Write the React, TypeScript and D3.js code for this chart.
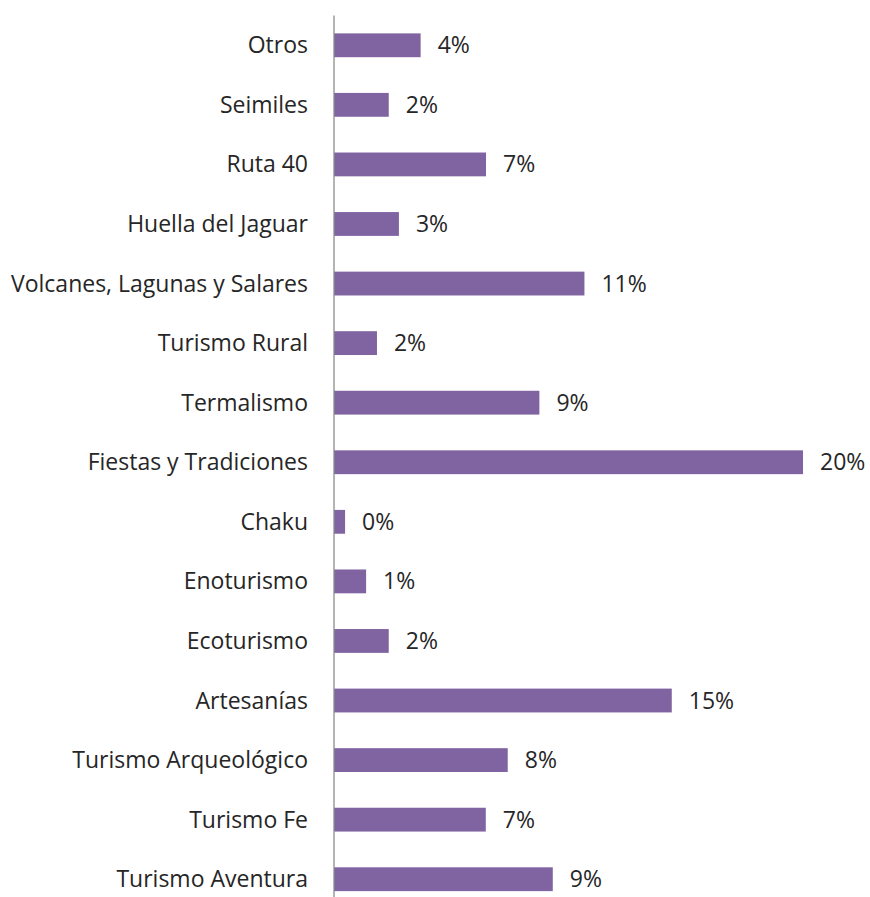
import React from "react";
import * as d3 from "d3";

// categories from top to bottom
const categories = [
  "Otros",
  "Seimiles",
  "Ruta 40",
  "Huella del Jaguar",
  "Volcanes, Lagunas y Salares",
  "Turismo Rural",
  "Termalismo",
  "Fiestas y Tradiciones",
  "Chaku",
  "Enoturismo",
  "Ecoturismo",
  "Artesanías",
  "Turismo Arqueológico",
  "Turismo Fe",
  "Turismo Aventura",
];

// share in percent
const shares = [
  3.75, 2.37, 6.58, 2.81, 10.84, 1.86, 8.89, 20.3, 0.48, 1.39, 2.37, 14.62,
  7.52, 6.57, 9.47,
];

const W = 870;
const H = 897;
const margin = { top: 15.5, left: 334 };
const plotBottom = 909;
const barColor = "#8064A2";
const axisColor = "#8C8C8C";
const textColor = "#262626";
const fontFamily = "'Open Sans', 'Noto Sans', sans-serif";

const App: React.FC = () => {
  const data = categories.map((c, i) => ({ name: c, value: shares[i] }));

  const yScale = d3
    .scaleBand<string>()
    .domain(categories)
    .range([margin.top, plotBottom])
    .paddingInner(0.6)
    .paddingOuter(0.3);

  // ~23.1 px per percentage point
  const xScale = d3
    .scaleLinear()
    .domain([0, 20.3])
    .range([margin.left, margin.left + 469]);

  const fmt = d3.format(".0%");

  return (
    <svg
      width={W}
      height={H}
      style={{ position: "absolute", left: 0, top: 0, background: "white" }}
    >
      <rect width={W} height={H} fill="white" />
      <g>
        {data.map((d) => (
          <rect
            key={d.name}
            x={xScale(0)}
            y={yScale(d.name)!}
            width={xScale(d.value) - xScale(0)}
            height={yScale.bandwidth()}
            fill={barColor}
          />
        ))}
      </g>
      {/* category axis */}
      <line
        x1={xScale(0)}
        x2={xScale(0)}
        y1={margin.top}
        y2={plotBottom}
        stroke={axisColor}
        strokeWidth={1.3}
      />
      <g fontFamily={fontFamily} fontSize={23} fill={textColor}>
        {data.map((d) => (
          <text
            key={"c" + d.name}
            x={xScale(0) - 26}
            y={yScale(d.name)! + yScale.bandwidth() / 2}
            dy="0.35em"
            textAnchor="end"
          >
            {d.name}
          </text>
        ))}
        {data.map((d) => (
          <text
            key={"v" + d.name}
            x={xScale(d.value) + 17}
            y={yScale(d.name)! + yScale.bandwidth() / 2}
            dy="0.35em"
          >
            {fmt(d.value / 100)}
          </text>
        ))}
      </g>
    </svg>
  );
};

export default App;
